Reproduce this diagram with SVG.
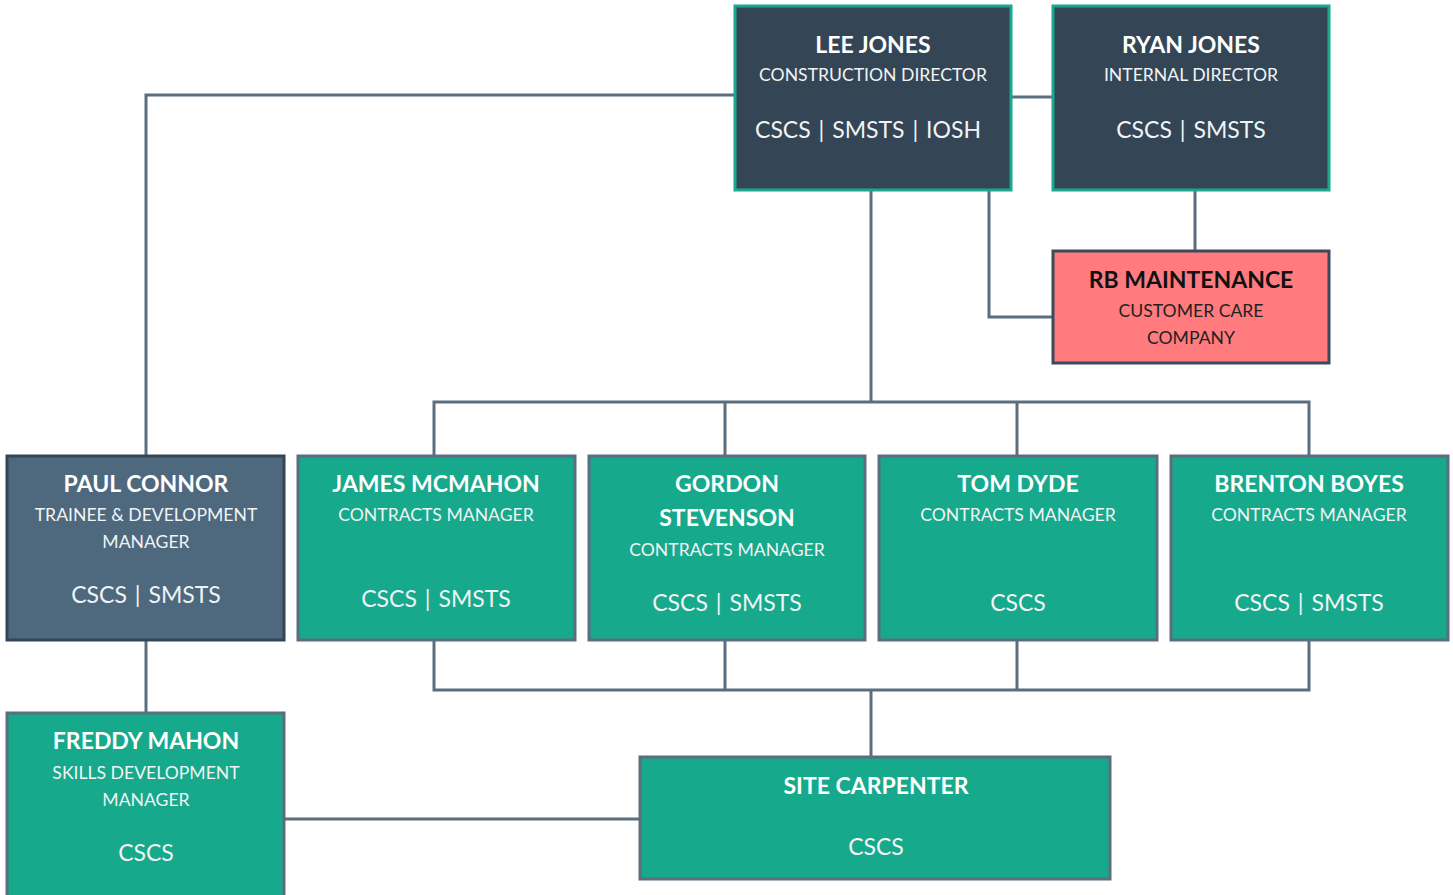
<svg xmlns="http://www.w3.org/2000/svg" width="1453" height="895" viewBox="0 0 1453 895">
<style>
text{font-family:Lato,"Open Sans","Liberation Sans",sans-serif;text-anchor:middle}
.name{font-weight:bold;font-size:23px;fill:#ffffff}
.role{font-size:17.6px;fill:#f0f4f5}
.cert{font-size:23px;fill:#f0f4f5;word-spacing:2px}
.dark{fill:#344555;stroke:#1aa88c;stroke-width:3}
.slate{fill:#4e687e;stroke:#344555;stroke-width:3}
.teal{fill:#16a98b;stroke:#5a6e80;stroke-width:3}
.red{fill:#ff7b7e;stroke:#3a4a5a;stroke-width:3}
.conn{fill:none;stroke:#5a6e80;stroke-width:3}
.rname{font-weight:bold;font-size:23px;fill:#111}
.rrole{font-size:17.6px;fill:#222}
</style>
<rect width="1453" height="895" fill="#ffffff"/>
<g id="connectors">
<path class="conn" d="M1011 97H1053"/>
<path class="conn" d="M1195 190V251"/>
<path class="conn" d="M989 190V317H1053"/>
<path class="conn" d="M871 190V402"/>
<path class="conn" d="M434 456V402H1309V456"/>
<path class="conn" d="M725 402V456M1017 402V456"/>
<path class="conn" d="M735 95H146V456"/>
<path class="conn" d="M434 640V690H1309V640"/>
<path class="conn" d="M725 640V690M1017 640V690"/>
<path class="conn" d="M871 690V757"/>
<path class="conn" d="M146 640V713"/>
<path class="conn" d="M284 819H640"/>
</g>
<g id="lee-jones">
<rect class="dark" x="735" y="6" width="276" height="184"/>
<text class="name" x="873" y="53">LEE JONES</text>
<text class="role" x="873" y="81">CONSTRUCTION DIRECTOR</text>
<text class="cert" x="868" y="138">CSCS | SMSTS | IOSH</text>
</g>
<g id="ryan-jones">
<rect class="dark" x="1053" y="6" width="276" height="184"/>
<text class="name" x="1191" y="53">RYAN JONES</text>
<text class="role" x="1191" y="81">INTERNAL DIRECTOR</text>
<text class="cert" x="1191" y="138">CSCS | SMSTS</text>
</g>
<g id="rb-maintenance">
<rect class="red" x="1053" y="251" width="276" height="112"/>
<text class="rname" x="1191" y="288">RB MAINTENANCE</text>
<text class="rrole" x="1191" y="317">CUSTOMER CARE</text>
<text class="rrole" x="1191" y="344">COMPANY</text>
</g>
<g id="paul-connor">
<rect class="slate" x="7" y="456" width="277" height="184"/>
<text class="name" x="146" y="492">PAUL CONNOR</text>
<text class="role" x="146" y="521">TRAINEE &amp; DEVELOPMENT</text>
<text class="role" x="146" y="548">MANAGER</text>
<text class="cert" x="146" y="603">CSCS | SMSTS</text>
</g>
<g id="james-mcmahon">
<rect class="teal" x="298" y="456" width="277" height="184"/>
<text class="name" x="436" y="492">JAMES MCMAHON</text>
<text class="role" x="436" y="521">CONTRACTS MANAGER</text>
<text class="cert" x="436" y="607">CSCS | SMSTS</text>
</g>
<g id="gordon-stevenson">
<rect class="teal" x="589" y="456" width="276" height="184"/>
<text class="name" x="727" y="492">GORDON</text>
<text class="name" x="727" y="526">STEVENSON</text>
<text class="role" x="727" y="556">CONTRACTS MANAGER</text>
<text class="cert" x="727" y="611">CSCS | SMSTS</text>
</g>
<g id="tom-dyde">
<rect class="teal" x="879" y="456" width="278" height="184"/>
<text class="name" x="1018" y="492">TOM DYDE</text>
<text class="role" x="1018" y="521">CONTRACTS MANAGER</text>
<text class="cert" x="1018" y="611">CSCS</text>
</g>
<g id="brenton-boyes">
<rect class="teal" x="1171" y="456" width="277" height="184"/>
<text class="name" x="1309" y="492">BRENTON BOYES</text>
<text class="role" x="1309" y="521">CONTRACTS MANAGER</text>
<text class="cert" x="1309" y="611">CSCS | SMSTS</text>
</g>
<g id="freddy-mahon">
<rect class="teal" x="7" y="713" width="277" height="190"/>
<text class="name" x="146" y="749">FREDDY MAHON</text>
<text class="role" x="146" y="779">SKILLS DEVELOPMENT</text>
<text class="role" x="146" y="806">MANAGER</text>
<text class="cert" x="146" y="861">CSCS</text>
</g>
<g id="site-carpenter">
<rect class="teal" x="640" y="757" width="470" height="122"/>
<text class="name" x="876" y="794">SITE CARPENTER</text>
<text class="cert" x="876" y="855">CSCS</text>
</g>
</svg>
